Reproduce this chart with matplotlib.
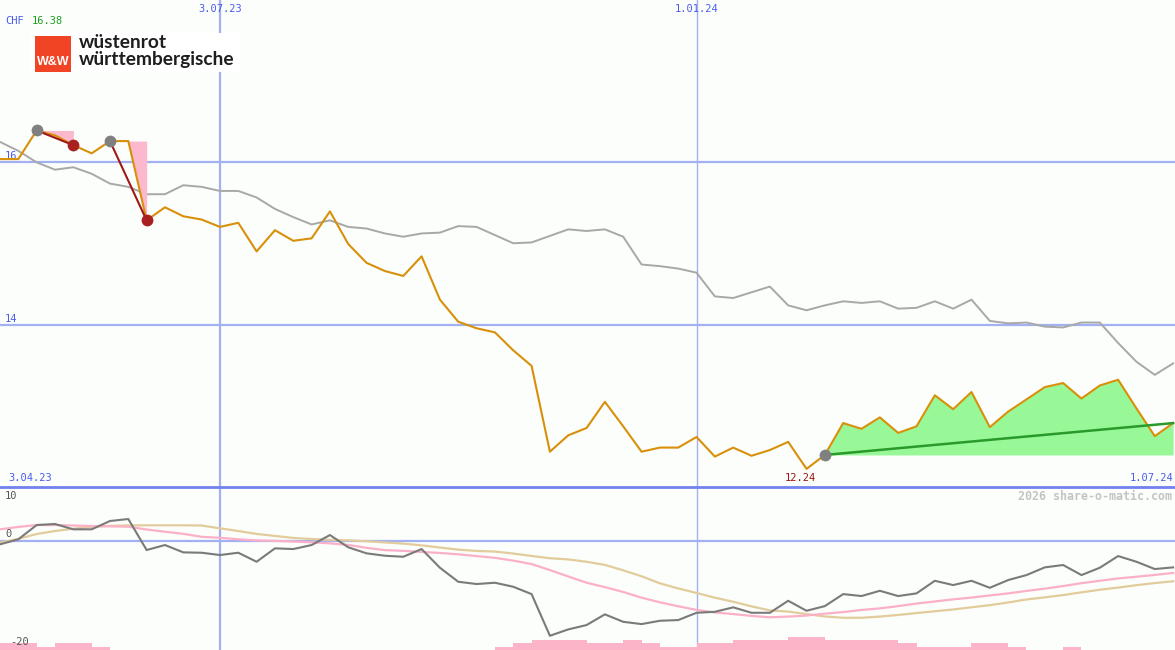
import matplotlib
matplotlib.use('Agg')
import matplotlib.pyplot as plt
import matplotlib.transforms as mtransforms
from matplotlib.patches import Rectangle
import numpy as np
import pandas as pd

# weekly values, Mondays from 10.04.2023 to 1.07.2024
start = pd.Timestamp('2023-04-10')
weeks = np.arange(65)

# share price in CHF (orange)
price = [16.03, 16.03, 16.38, 16.32, 16.20, 16.10, 16.25, 16.25, 15.28, 15.44,
         15.33, 15.29, 15.20, 15.25, 14.90, 15.16, 15.03, 15.06, 15.39, 14.99,
         14.76, 14.66, 14.60, 14.84, 14.31, 14.04, 13.96, 13.91, 13.69, 13.50,
         12.45, 12.65, 12.74, 13.06, 12.76, 12.45, 12.50, 12.50, 12.63, 12.39,
         12.50, 12.40, 12.47, 12.57, 12.24, 12.41, 12.80, 12.73, 12.87, 12.68,
         12.76, 13.14, 12.97, 13.18, 12.75, 12.94, 13.09, 13.24, 13.29, 13.10,
         13.26, 13.33, 12.98, 12.64, 12.80]

# benchmark, rebased to the price scale (grey)
bench = [16.24, 16.13, 15.99, 15.90, 15.93, 15.85, 15.73, 15.69, 15.60, 15.60,
         15.71, 15.69, 15.64, 15.64, 15.56, 15.42, 15.32, 15.23, 15.28, 15.20,
         15.18, 15.12, 15.08, 15.12, 15.13, 15.21, 15.20, 15.10, 15.00, 15.01,
         15.09, 15.17, 15.15, 15.17, 15.08, 14.74, 14.72, 14.69, 14.64, 14.35,
         14.33, 14.40, 14.47, 14.24, 14.18, 14.24, 14.29, 14.27, 14.29, 14.20,
         14.21, 14.29, 14.20, 14.31, 14.05, 14.02, 14.03, 13.98, 13.97, 14.03,
         14.03, 13.78, 13.55, 13.39, 13.53]

# lower panel
mom = [-0.55, 0.37, 3.00, 3.19, 2.21, 2.21, 3.74, 4.11, -1.60, -0.68,
       -2.03, -2.10, -2.52, -2.10, -3.76, -1.29, -1.42, -0.68, 1.16, -1.10,
       -2.21, -2.65, -2.84, -1.42, -4.86, -7.44, -7.86, -7.62, -8.36, -9.71,
       -17.38, -16.21, -15.41, -13.44, -14.81, -15.23, -14.62, -14.49, -13.15, -12.97,
       -12.15, -13.15, -13.15, -10.94, -12.78, -11.92, -9.71, -10.07, -9.10, -10.07,
       -9.58, -7.26, -8.05, -7.26, -8.55, -7.13, -6.21, -4.79, -4.36, -6.21,
       -4.86, -2.71, -3.76, -5.10, -4.79]

ma_fast = [2.21, 2.65, 3.00, 3.00, 2.91, 2.82, 2.76, 2.69, 2.17, 1.77,
           1.38, 0.83, 0.66, 0.37, 0.18, 0.09, -0.04, -0.18, -0.37, -0.66,
           -1.20, -1.62, -1.75, -1.95, -2.14, -2.39, -2.71, -3.04, -3.55, -4.18,
           -5.29, -6.46, -7.62, -8.43, -9.32, -10.37, -11.22, -11.95, -12.62, -13.09,
           -13.39, -13.72, -13.98, -13.85, -13.66, -13.31, -13.02, -12.63, -12.34, -11.92,
           -11.45, -11.07, -10.68, -10.35, -9.96, -9.58, -9.13, -8.71, -8.23, -7.70,
           -7.26, -6.83, -6.52, -6.19, -5.82]

ma_slow = [-0.26, 0.48, 1.34, 1.90, 2.32, 2.67, 2.85, 2.93, 2.95, 2.95,
           2.95, 2.91, 2.39, 1.90, 1.36, 0.99, 0.63, 0.42, 0.29, 0.18,
           0.02, -0.20, -0.42, -0.74, -1.14, -1.53, -1.77, -1.88, -2.25, -2.69,
           -3.11, -3.33, -3.76, -4.33, -5.34, -6.43, -7.73, -8.67, -9.50, -10.37,
           -11.12, -11.97, -12.71, -12.93, -13.39, -13.83, -14.07, -14.07, -13.85, -13.55,
           -13.20, -12.87, -12.54, -12.14, -11.75, -11.25, -10.70, -10.31, -9.89, -9.39,
           -8.91, -8.51, -8.07, -7.68, -7.35]

volume = [2, 2, 1, 2, 2, 1, 0, 0, 0, 0,
          0, 0, 0, 0, 0, 0, 0, 0, 0, 0,
          0, 0, 0, 0, 0, 0, 0, 1, 2, 3,
          3, 3, 2, 2, 3, 2, 1, 1, 2, 2,
          3, 3, 3, 4, 4, 3, 3, 3, 3, 2,
          1, 1, 1, 2, 2, 1, 0, 0, 1, 0,
          0, 0, 0, 0, 0]

# (peak week, trough week)
drawdowns = [(2, 4), (6, 8)]
low_week = 44
trend_week = 45
trend_end = 12.80

grid_dates = ['3.07.23', '1.01.24']
grid_prices = [14, 16]

price = np.array(price)

def week_of(label):
    d = pd.to_datetime(label, format='%d.%m.%y')
    return (d - start).days / 7

W, H = 1175, 650
fig = plt.figure(figsize=(W / 100, H / 100), dpi=100)
bg = '#fbfefb'
fig.patch.set_facecolor(bg)
mono = 'DejaVu Sans Mono'
blue_txt = '#4a5cf0'
grid_c = '#a3b1f2'
xmax = W / 18.33

ax = fig.add_axes([0, 163 / H, 1, 487 / H])
ax2 = fig.add_axes([0, 0, 1, 163 / H])
for a in (ax, ax2):
    a.patch.set_visible(False)
    a.set_xlim(0, xmax)
    a.set_xticks([])
    a.set_yticks([])
    for s in a.spines.values():
        s.set_visible(False)
ax.set_ylim(12.018, 17.976)
ax2.set_ylim(-20, 10)

# panel separator
fig.add_artist(plt.Line2D([0, 1], [163 / H, 163 / H], transform=fig.transFigure,
                          color='#7282ec', lw=2, zorder=10))

# grid
for p in grid_prices:
    ax.axhline(p, color=grid_c, lw=1.6, zorder=1)
for i, d in enumerate(grid_dates):
    w = week_of(d)
    lw = 1.6 if i == 0 else 1.0
    ax.axvline(w, color=grid_c, lw=lw, zorder=1)
    ax2.axvline(w, color=grid_c, lw=lw, zorder=1)
ax2.axhline(0, color=grid_c, lw=1.6, zorder=1)

# main panel
ax.plot(weeks, bench, color='#a8a8a8', lw=1.4, zorder=2)
for pk, tr in drawdowns:
    seg = weeks[pk:tr + 1]
    ax.fill_between(seg, price[pk], price[pk:tr + 1], color='#fcb8cc', lw=0, zorder=2)
seg = weeks[trend_week:]
ax.fill_between(seg, price[trend_week], price[trend_week:], color='#98f898', lw=0, zorder=2)
ax.plot(weeks, price, color='#d8900a', lw=1.5, zorder=3)
ax.plot([trend_week, weeks[-1]], [price[trend_week], trend_end], color='#2a9a2a', lw=1.8, zorder=4)
for pk, tr in drawdowns:
    ax.plot([pk, tr], [price[pk], price[tr]], color='#a01818', lw=1.5, zorder=4)
    ax.plot(pk, price[pk], 'o', color='#808080', ms=8.5, mew=0, zorder=5)
    ax.plot(tr, price[tr], 'o', color='#a82020', ms=8.5, mew=0, zorder=5)
ax.plot(trend_week, price[trend_week], 'o', color='#808080', ms=8.5, mew=0, zorder=5)

# lower panel
ax2.bar(weeks, np.array(volume) * 0.6, bottom=-20, width=1, align='edge',
        color='#fcb4c8', lw=0, zorder=2)
ax2.plot(weeks, ma_slow, color='#e2cc9c', lw=1.6, zorder=3)
ax2.plot(weeks, ma_fast, color='#fcb0c8', lw=1.6, zorder=3)
ax2.plot(weeks, mom, color='#7a7a7a', lw=1.5, zorder=4)

# labels
ty = mtransforms.blended_transform_factory(ax.transAxes, ax.transData)
for p in grid_prices:
    ax.text(5 / W, p + 0.01, f'{p}', transform=ty, color=blue_txt, family=mono,
            fontsize=7.5, va='bottom', ha='left', zorder=2)
tx = mtransforms.blended_transform_factory(ax.transData, ax.transAxes)
for d in grid_dates:
    ax.text(week_of(d), 1 - 9 / 487, d, transform=tx, color=blue_txt, family=mono,
            fontsize=7.5, ha='center', va='center')
ax.text(8 / W, 9 / 487, '3.04.23', transform=ax.transAxes, color=blue_txt,
        family=mono, fontsize=7.5, ha='left', va='center')
ax.text(week_of('1.07.24'), 9 / 487, '1.07.24', transform=tx, color=blue_txt,
        family=mono, fontsize=7.5, ha='right', va='center')
ax.text(low_week + 0.5, 9 / 487, f'{price[low_week]:.2f}', transform=tx,
        color='#a01010', family=mono, fontsize=7.5, ha='right', va='center')

fig.text(5 / W, 1 - 21 / H, 'CHF', color=blue_txt, family=mono, fontsize=7.5, va='center')
fig.text(32 / W, 1 - 21 / H, f'{price.max():.2f}', color='#20a020', family=mono,
         fontsize=7.5, va='center')

ax2.text(5 / W, (650 - 496) / 163, '10', transform=ax2.transAxes, color='#555555',
         family=mono, fontsize=7.5, va='center')
ax2.text(5 / W, (650 - 534) / 163, '0', transform=ax2.transAxes, color='#555555',
         family=mono, fontsize=7.5, va='center')
ax2.text(10 / W, (650 - 642) / 163, '-20', transform=ax2.transAxes, color='#555555',
         family=mono, fontsize=7.5, va='center', zorder=5)
ax2.text(1172 / W, (650 - 496) / 163, '2026 share-o-matic.com', transform=ax2.transAxes,
         color='#c4c4c4', family=mono, fontsize=8.4, fontweight='bold',
         ha='right', va='center')

# logo
fig.patches.append(Rectangle((30 / W, 1 - 72 / H), 210 / W, 39 / H, transform=fig.transFigure,
                             facecolor='white', edgecolor='none', zorder=20))
fig.patches.append(Rectangle((35 / W, 1 - 72 / H), 36 / W, 36 / H, transform=fig.transFigure,
                             facecolor='#f04424', edgecolor='none', zorder=21))
fig.text(53 / W, 1 - 62 / H, 'W&W', color='white', family='Liberation Sans',
         fontweight='bold', fontsize=9, ha='center', va='center', zorder=22)
fig.text(79 / W, 1 - 43 / H, 'wüstenrot', color='#1e1e1e', family='Lato',
         fontweight='bold', fontsize=13.8, ha='left', va='center', zorder=22)
fig.text(79 / W, 1 - 60 / H, 'württembergische', color='#1e1e1e', family='Lato',
         fontweight='bold', fontsize=13.8, ha='left', va='center', zorder=22)

fig.savefig('out.png', dpi=100, facecolor=bg)
